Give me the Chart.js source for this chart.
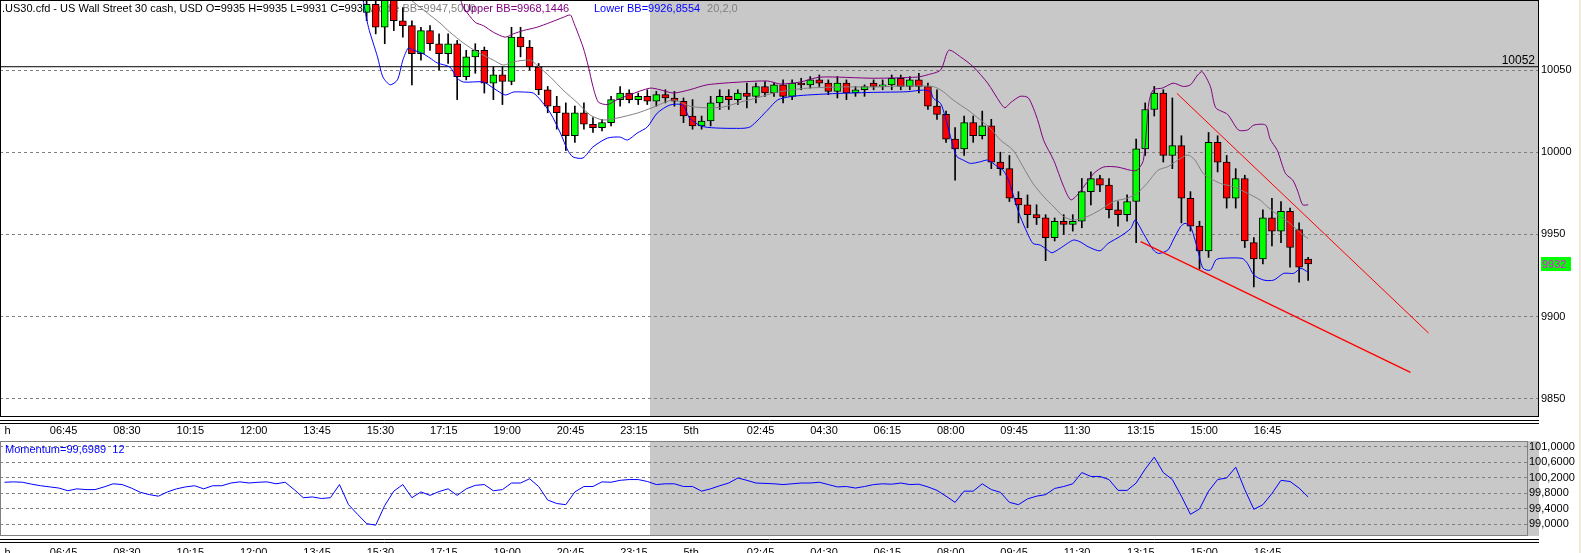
<!DOCTYPE html>
<html>
<head>
<meta charset="utf-8">
<title>.US30.cfd M15</title>
<script src="https://cdn.jsdelivr.net/npm/chart.js@4.4.1/dist/chart.umd.min.js"></script>
<style>
  html, body { margin: 0; padding: 0; background: #ffffff; }
  #wrap { position: relative; width: 1581px; height: 553px; overflow: hidden; }
  #priceChart { position: absolute; left: 0; top: 0; }
  #momChart { position: absolute; left: 0; top: 430px; }
  #edge { position: absolute; right: 0; top: 0; width: 2px; height: 553px; background: #efebdc; }
</style>
</head>
<body>
<div id="wrap">
  <canvas id="priceChart" width="1581" height="441"></canvas>
  <canvas id="momChart" width="1581" height="123"></canvas>
  <div id="edge"></div>
</div>
<script>
/* ================= DATA ================= */

// time axis (bar index of each label)
const timeLabels = ['h', '06:45', '08:30', '10:15', '12:00', '13:45', '15:30', '17:15', '19:00', '20:45',
  '23:15', '5th', '02:45', '04:30', '06:15', '08:00', '09:45', '11:30', '13:15', '15:00', '16:45'];
const timeTickBars = [0, 5, 12, 19, 26, 33, 40, 47, 54, 61, 68, 75, 82, 89, 96, 103, 110, 117, 124, 131, 138];
const visibleBars = 170;
const shadeFromBar = 71.3;   // grey session background starts here

// price panel
const priceTicks = [9850, 9900, 9950, 10000, 10050];
const priceMin = 9838.9;
const priceMax = 10092.6;
const levelPrice = 10052;

// candles, first one is bar 40
const firstBar = 40;
const candleOpen = [
  10085, 10090, 10076, 10093, 10080, 10077, 10060, 10074, 10066, 10060,
  10066, 10046, 10058, 10062, 10042, 10047, 10043, 10070, 10064, 10052,
  10038, 10028, 10024, 10010, 10024, 10017, 10015, 10018, 10032, 10036,
  10032, 10034, 10031, 10035, 10033, 10031, 10022, 10016, 10019, 10030,
  10034, 10032, 10036, 10034, 10040, 10036, 10041, 10034, 10042, 10041,
  10044, 10042, 10037, 10042, 10036, 10038, 10042, 10040, 10041, 10045,
  10040, 10044, 10040, 10028, 10023, 10008, 10002, 10018, 10010, 10016,
  9994, 9990, 9972, 9968, 9962, 9960, 9948, 9958, 9956, 9958,
  9976, 9984, 9980, 9965, 9962, 9970, 10002, 10026, 10036, 9998,
  10004, 9972, 9955, 9940, 10006, 9994, 9972, 9984, 9945, 9935,
  9960, 9952, 9964, 9953, 9935
];
const candleHigh = [
  10097, 10095, 10097, 10096, 10088, 10080, 10076, 10077, 10072, 10072,
  10068, 10062, 10066, 10064, 10052, 10052, 10076, 10076, 10068, 10054,
  10040, 10034, 10030, 10028, 10030, 10021, 10020, 10034, 10040, 10038,
  10036, 10038, 10037, 10038, 10037, 10033, 10032, 10022, 10034, 10038,
  10038, 10038, 10042, 10042, 10043, 10042, 10044, 10044, 10045, 10046,
  10047, 10044, 10046, 10044, 10040, 10041, 10044, 10044, 10047, 10047,
  10046, 10048, 10042, 10038, 10025, 10015, 10022, 10022, 10025, 10020,
  10000, 9998, 9976, 9974, 9968, 9962, 9960, 9962, 9962, 9984,
  9988, 9986, 9984, 9970, 9974, 10008, 10030, 10040, 10038, 10033,
  10010, 9976, 9958, 10012, 10010, 9998, 9990, 9986, 9948, 9965,
  9972, 9970, 9966, 9957, 9936
];
const candleLow = [
  10080, 10072, 10066, 10074, 10070, 10041, 10056, 10062, 10050, 10054,
  10032, 10044, 10048, 10036, 10032, 10029, 10041, 10058, 10050, 10035,
  10024, 10014, 10001, 10006, 10014, 10012, 10013, 10016, 10028, 10030,
  10029, 10029, 10028, 10030, 10028, 10018, 10014, 10014, 10016, 10026,
  10026, 10029, 10027, 10030, 10034, 10034, 10030, 10032, 10038, 10039,
  10040, 10035, 10033, 10032, 10034, 10034, 10038, 10038, 10038, 10038,
  10038, 10036, 10026, 10020, 10006, 9983, 9998, 10006, 10008, 9990,
  9986, 9970, 9957, 9954, 9956, 9934, 9946, 9950, 9952, 9954,
  9968, 9976, 9960, 9955, 9958, 9945, 9998, 10022, 9994, 9990,
  9957, 9952, 9929, 9936, 9988, 9966, 9966, 9942, 9918, 9932,
  9943, 9945, 9930, 9921, 9922
];
const candleClose = [
  10090, 10076, 10093, 10080, 10077, 10060, 10074, 10066, 10060, 10066,
  10046, 10058, 10062, 10042, 10047, 10043, 10070, 10064, 10052, 10038,
  10028, 10024, 10010, 10024, 10017, 10015, 10018, 10032, 10036, 10032,
  10034, 10031, 10035, 10033, 10031, 10022, 10016, 10019, 10030, 10034,
  10032, 10036, 10034, 10040, 10036, 10041, 10034, 10042, 10041, 10044,
  10042, 10037, 10042, 10036, 10038, 10040, 10040, 10041, 10045, 10040,
  10044, 10040, 10028, 10023, 10008, 10002, 10018, 10010, 10016, 9994,
  9990, 9972, 9968, 9962, 9960, 9948, 9958, 9956, 9958, 9976,
  9984, 9980, 9965, 9962, 9970, 10002, 10026, 10036, 9998, 10004,
  9972, 9955, 9940, 10006, 9994, 9972, 9984, 9946, 9935, 9960,
  9952, 9964, 9942, 9930, 9932
];

// Bollinger bands (20,2): bar position + value
const upperBBBars = [50.3, 50.7, 52.0, 52.9, 54.0, 55.3, 56.2, 57.3, 58.8, 60.3, 61.7, 62.5, 62.8, 63.9, 64.5,
  65.0, 65.6, 66.6, 67.7, 69.1, 71.3, 72.4, 73.9, 75.7, 77.6, 81.3, 84.3, 85.7, 87.9, 90.1, 96.0, 100.8,
  101.9, 103.4, 104.3, 105.6, 107.0, 108.6, 110.0, 110.5, 111.1, 112.2, 113.1, 114.1, 114.8, 115.9, 117.0,
  117.8, 118.8, 120.3, 121.4, 122.9, 124.4, 125.1, 125.8, 126.4, 126.9, 127.9, 129.1, 130.2, 131.0, 131.8,
  132.3, 133.2, 133.8, 135.1, 136.3, 137.3, 138.0, 139.3, 139.8, 140.6, 141.5, 142.3, 142.8, 143.4, 144.0];
const upperBB = [10094, 10088, 10079, 10077, 10073, 10070, 10072, 10074, 10076, 10079, 10082, 10083.5, 10080, 10064, 10052,
  10040, 10030.5, 10029, 10032, 10035, 10039, 10038, 10036, 10038, 10041, 10042.7, 10043.3, 10041.5, 10042.7, 10045.7, 10045, 10045.7,
  10047, 10050, 10062, 10058, 10052, 10042, 10030, 10027, 10030, 10034, 10033, 10020, 10007, 9995, 9979,
  9971, 9976, 9987, 9991, 9991, 9989, 9989, 9995, 10030, 10038, 10039, 10042, 10040, 10041, 10047,
  10049, 10040, 10027, 10023, 10013.5, 10013.5, 10016.5, 10016.5, 10008, 10001, 9987, 9983, 9977, 9968, 9968];

const middleBBBars = [44.8, 46.7, 48.1, 49.2, 50.7, 52.2, 54.0, 55.1, 56.2, 58.1, 58.8, 60.3, 61.7, 63.3, 64.7,
  66.1, 67.7, 69.9, 71.5, 73.9, 75.7, 77.6, 79.4, 81.3, 83.1, 84.9, 86.8, 88.7, 92.3, 96.0, 99.7, 102.6,
  103.7, 104.8, 106.4, 107.8, 108.9, 110.0, 111.4, 112.5, 113.6, 114.8, 115.9, 117.0, 118.1, 119.6, 121.0,
  122.5, 124.0, 125.1, 126.2, 127.4, 128.5, 129.6, 130.7, 131.5, 132.4, 133.2, 134.3, 135.7, 137.3, 138.7,
  139.5, 140.9, 142.0, 143.2, 144.0];
const middleBB = [10093, 10084.7, 10078.6, 10073, 10066.4, 10061, 10056, 10053, 10055, 10056, 10053, 10045.7, 10037.8, 10030, 10022.6,
  10019.6, 10020.8, 10023.8, 10027, 10031.8, 10028, 10027, 10027.5, 10030.5, 10033, 10036, 10037.8, 10039, 10039.7, 10039.7, 10040.3, 10039.9,
  10036.8, 10031.7, 10025.7, 10019.6, 10014.5, 10007.4, 10001.3, 9991.2, 9981, 9972.9, 9966.8, 9960.8, 9958.7, 9960.8, 9964.8,
  9970, 9972, 9975, 9981, 9989, 9991.2, 9995.2, 9998.3, 9995.2, 9987.1, 9984.1, 9981, 9979, 9975, 9970.9,
  9966.8, 9960.8, 9956.7, 9950.6, 9947.5];

const lowerBBBars = [39.6, 40.2, 41.2, 41.8, 42.6, 43.4, 44.0, 44.6, 45.1, 46.1, 47.0, 47.8, 49.2, 50.0, 50.7,
  52.9, 54.0, 55.3, 56.2, 57.3, 58.4, 59.2, 60.3, 61.4, 62.2, 62.8, 63.9, 65.0, 66.6, 68.0, 68.8, 69.9,
  71.0, 72.1, 73.5, 74.9, 75.7, 77.2, 81.3, 82.4, 84.3, 85.4, 86.8, 88.7, 92.3, 96.0, 99.7, 101.5, 102.3,
  102.6, 103.4, 103.9, 104.5, 104.8, 105.2, 105.9, 106.7, 107.8, 108.6, 109.7, 110.3, 110.9, 111.7, 112.2,
  113.0, 113.6, 114.4, 115.2, 115.7, 116.6, 117.4, 118.1, 118.8, 119.7, 121.0, 121.9, 123.3, 124.4, 124.9,
  125.8, 126.9, 127.5, 128.5, 129.1, 129.9, 130.4, 131.0, 131.5, 131.9, 132.4, 133.2, 133.8, 134.3, 136.7,
  137.3, 138.0, 139.1, 140.2, 141.3, 142.4, 143.2, 144.0];
const lowerBB = [10093, 10076, 10058, 10045.7, 10041, 10044, 10056, 10063.4, 10062.2, 10060.3, 10057.3, 10054.3, 10051.8, 10045, 10042.7,
  10042.7, 10039, 10034.8, 10036.6, 10036.6, 10036, 10031.8, 10023.8, 10011.7, 10001.3, 9997.1, 9996.5, 10003.2, 10008.6, 10009.2, 10007.4, 10011.7,
  10015.3, 10023.8, 10028.7, 10028.7, 10020.6, 10015.5, 10014.5, 10015.5, 10025.7, 10031.8, 10033.8, 10034.8, 10035.8, 10036.4, 10036.8, 10037.8, 10036.8,
  10032.8, 10029.7, 10021.6, 10009.4, 10003.3, 9997.3, 9995.2, 9993.2, 9994.2, 9995.2, 9991.2, 9989.1, 9983.1, 9968.9, 9960.8,
  9950.6, 9944.5, 9943.5, 9940.5, 9938.8, 9941.5, 9944.5, 9946.6, 9945.5, 9942.5, 9940, 9944.5, 9949, 9953.6, 9958.7,
  9950.6, 9940.5, 9938.4, 9940.5, 9946.6, 9954.7, 9956.7, 9954.7, 9946.6, 9938.4, 9929.3, 9928.3, 9934.4, 9935.4, 9935.4,
  9932.3, 9925.3, 9922.2, 9922.2, 9926.3, 9926.3, 9929.3, 9926.9];

// hand drawn trend lines (channel)
const trendUpperBars = [129.5, 157.3];
const trendUpper = [10035.8, 9890];
const trendLowerBars = [125.5, 155.3];
const trendLower = [9945.6, 9866];

// momentum (12), one value per bar from bar 0
const momentum = [
  100.08, 100.09, 100.08, 100.03, 99.99, 99.96, 99.93, 99.86, 99.91, 99.89,
  99.89, 99.96, 100.04, 100.02, 99.93, 99.82, 99.76, 99.72, 99.83, 99.91,
  99.96, 99.99, 99.91, 99.99, 99.99, 100.06, 100.09, 100.06, 100.08, 100.09,
  100.04, 100.08, 99.89, 99.68, 99.70, 99.66, 99.68, 100.02, 99.50, 99.25,
  99.01, 98.97, 99.48, 99.85, 100.02, 99.68, 99.83, 99.74, 99.84, 99.91,
  99.74, 99.91, 100.00, 100.02, 99.86, 99.89, 100.06, 100.06, 100.17, 99.97,
  99.62, 99.53, 99.50, 99.83, 99.97, 99.97, 100.09, 100.08, 100.13, 100.15,
  100.15, 100.10, 100.02, 100.04, 100.04, 99.97, 99.97, 99.85, 99.91, 99.99,
  100.06, 100.19, 100.13, 100.06, 100.05, 100.04, 100.02, 100.04, 100.06, 100.06,
  100.08, 100.02, 99.96, 99.97, 99.93, 99.97, 100.02, 100.04, 100.03, 100.06,
  100.02, 100.03, 99.96, 99.87, 99.72, 99.56, 99.85, 99.85, 100.04, 99.89,
  99.82, 99.56, 99.50, 99.65, 99.72, 99.76, 99.92, 99.97, 100.04, 100.33,
  100.23, 100.23, 100.15, 99.87, 99.87, 100.06, 100.42, 100.73, 100.33, 100.15,
  99.72, 99.25, 99.39, 99.85, 100.15, 100.19, 100.47, 99.89, 99.38, 99.50,
  99.79, 100.13, 100.10, 99.93, 99.70
];
const momTicks = [99.0, 99.4, 99.8, 100.2, 100.6, 101.0];
const momMin = 98.69;
const momMax = 101.147;

// legend texts
const titleTexts = ['.US30.cfd - US Wall Street 30 cash, USD O=9935 H=9935 L=9931 C=9932',
  'Middle BB=9947,5000', 'Upper BB=9968,1446', 'Lower BB=9926,8554', '20,2,0'];
const momText = 'Momentum=99,6989  12';

/* ================= HELPERS ================= */

const FONT = '11px "Liberation Sans", Arial, sans-serif';
Chart.defaults.font.family = '"Liberation Sans", Arial, sans-serif';
Chart.defaults.font.size = 11;
Chart.defaults.color = '#000000';

const pts = (bars, vals) => bars.map((b, k) => ({ x: b + 0.5, y: vals[k] }));
const barX = k => firstBar + k + 0.5;

const bodyData = candleOpen.map((o, k) => ({ x: barX(k), y: [o, candleClose[k]] }));
const wickData = candleOpen.map((o, k) => ({ x: barX(k), y: [candleLow[k], candleHigh[k]] }));
const bodyColors = candleOpen.map((o, k) => candleClose[k] >= o ? '#00ff00' : '#ff0000');

// grey session shading, frame and the double separator lines
const panelPlugin = {
  id: 'panel',
  beforeDraw(chart, args, opts) {
    const { ctx, chartArea: a } = chart;
    const sx = chart.scales.x.getPixelForValue(shadeFromBar + 0.5);
    ctx.save();
    ctx.fillStyle = '#c8c8c8';
    ctx.fillRect(sx, a.top, opts.shadeRight - sx, a.bottom - a.top);
    ctx.restore();
  },
  afterDraw(chart, args, opts) {
    const { ctx, chartArea: a } = chart;
    ctx.save();
    ctx.lineWidth = 1;
    ctx.strokeStyle = opts.frame;
    ctx.strokeRect(a.left + 0.5, a.top + 0.5, a.right - a.left - 1, a.bottom - a.top - 1);
    ctx.strokeStyle = '#000000';
    ctx.beginPath();
    [3, 6].forEach(d => {
      ctx.moveTo(0, a.bottom + d + 0.5);
      ctx.lineTo(opts.shadeRight, a.bottom + d + 0.5);
    });
    ctx.stroke();
    ctx.restore();
  }
};

// indicator captions, drawn under the candles like the terminal does
const titlePlugin = {
  id: 'titles',
  beforeDatasetsDraw(chart) {
    const ctx = chart.ctx;
    const xs = [2, 367, 463, 594];
    const colors = ['#000000', '#808080', '#800080', '#0000ff', '#808080'];
    ctx.save();
    ctx.font = FONT;
    ctx.textBaseline = 'alphabetic';
    let x = 0;
    titleTexts.forEach((t, i) => {
      x = i < xs.length ? xs[i] : x + 7;
      ctx.fillStyle = colors[i];
      ctx.fillText(t, x, 12);
      x += ctx.measureText(t).width;
    });
    ctx.restore();
  },
  afterDatasetsDraw(chart) {
    const { ctx, scales: { y } } = chart;
    ctx.save();
    // level label
    ctx.font = '12px "Liberation Sans", Arial, sans-serif';
    ctx.fillStyle = '#000000';
    ctx.textAlign = 'right';
    ctx.fillText(String(levelPrice), 1535, y.getPixelForValue(levelPrice) - 3);
    // last price marker
    const last = candleClose[candleClose.length - 1];
    const py = Math.round(y.getPixelForValue(last));
    ctx.fillStyle = '#00ff00';
    ctx.fillRect(1541, py - 7, 30, 14);
    ctx.font = FONT;
    ctx.textAlign = 'left';
    ctx.fillStyle = '#ff00ff';
    ctx.fillText(String(last), 1542, py + 4);
    ctx.restore();
  }
};

const momTitlePlugin = {
  id: 'momTitle',
  afterDatasetsDraw(chart) {
    const ctx = chart.ctx;
    ctx.save();
    ctx.font = FONT;
    ctx.fillStyle = '#0000ff';
    ctx.fillText(momText, 5, chart.chartArea.top + 12);
    ctx.restore();
  }
};

function timeAxis(maxVal, height, pad) {
  return {
    type: 'linear',
    min: 0,
    max: maxVal,
    offset: false,
    afterBuildTicks: ax => { ax.ticks = timeTickBars.map(b => ({ value: b + 0.5 })); },
    afterFit: ax => { ax.height = height; ax.paddingLeft = 0; ax.paddingRight = 0; },
    grid: { display: false, drawTicks: false },
    border: { display: false },
    ticks: {
      autoSkip: false, maxRotation: 0, minRotation: 0, align: 'start', padding: pad,
      color: '#000000', callback: (v, i) => timeLabels[i]
    }
  };
}

/* ================= PRICE PANEL ================= */

new Chart(document.getElementById('priceChart'), {
  type: 'bar',
  data: {
    datasets: [
      { type: 'line', label: 'Upper BB', data: pts(upperBBBars, upperBB), borderColor: '#800080',
        borderWidth: 1, pointRadius: 0, tension: 0.25, order: 1 },
      { type: 'line', label: 'Middle BB', data: pts(middleBBBars, middleBB), borderColor: '#808080',
        borderWidth: 1, pointRadius: 0, tension: 0.25, order: 1 },
      { type: 'line', label: 'Lower BB', data: pts(lowerBBBars, lowerBB), borderColor: '#0000ff',
        borderWidth: 1, pointRadius: 0, tension: 0.25, order: 1 },
      { type: 'line', label: 'trend up', data: pts(trendUpperBars, trendUpper), borderColor: '#ff0000',
        borderWidth: 1, pointRadius: 0, order: 0 },
      { type: 'line', label: 'trend low', data: pts(trendLowerBars, trendLower), borderColor: '#ff0000',
        borderWidth: 1.3, pointRadius: 0, order: 0 },
      { type: 'line', label: 'level', data: [{ x: 0, y: levelPrice }, { x: visibleBars, y: levelPrice }],
        borderColor: '#000000', borderWidth: 1, pointRadius: 0, order: 2 },
      { type: 'bar', label: 'body', data: bodyData, backgroundColor: bodyColors, borderColor: '#000000',
        borderWidth: 1, borderSkipped: false, barThickness: 7, grouped: false, order: 5 },
      { type: 'bar', label: 'wick', data: wickData, backgroundColor: '#000000', borderWidth: 0,
        barThickness: 1, grouped: false, order: 6 }
    ]
  },
  options: {
    responsive: false,
    animation: false,
    events: [],
    layout: { padding: 0, autoPadding: false },
    plugins: {
      legend: { display: false },
      tooltip: { enabled: false },
      panel: { shadeRight: 1539, frame: '#000000' }
    },
    scales: {
      x: timeAxis(visibleBars, 24, 7),
      y: {
        position: 'right',
        min: priceMin,
        max: priceMax,
        afterBuildTicks: ax => { ax.ticks = priceTicks.map(v => ({ value: v })); },
        afterFit: ax => { ax.width = 42; ax.paddingTop = 0; ax.paddingBottom = 0; },
        grid: { color: '#808080', drawTicks: false },
        border: { display: false, dash: [3, 3] },
        ticks: { padding: 2, color: '#000000', callback: v => String(v) }
      }
    }
  },
  plugins: [panelPlugin, titlePlugin]
});

/* ================= MOMENTUM PANEL ================= */

new Chart(document.getElementById('momChart'), {
  type: 'line',
  data: {
    datasets: [{
      label: 'Momentum',
      data: momentum.map((v, i) => ({ x: i + 0.5, y: v })),
      borderColor: '#0000ff',
      borderWidth: 1,
      pointRadius: 0,
      tension: 0
    }]
  },
  options: {
    responsive: false,
    animation: false,
    events: [],
    layout: { padding: { top: 11 }, autoPadding: false },
    plugins: {
      legend: { display: false },
      tooltip: { enabled: false },
      panel: { shadeRight: 1539, frame: '#808080' }
    },
    scales: {
      x: timeAxis(visibleBars * 1528 / 1539, 17, 10),
      y: {
        position: 'right',
        min: momMin,
        max: momMax,
        afterBuildTicks: ax => { ax.ticks = momTicks.map(v => ({ value: v })); },
        afterFit: ax => { ax.width = 53; ax.paddingTop = 0; ax.paddingBottom = 0; },
        grid: { color: '#808080', drawTicks: false },
        border: { display: false, dash: [3, 3] },
        ticks: { padding: 1, color: '#000000', callback: v => v.toFixed(4).replace('.', ',') }
      }
    }
  },
  plugins: [panelPlugin, momTitlePlugin]
});
</script>
</body>
</html>
